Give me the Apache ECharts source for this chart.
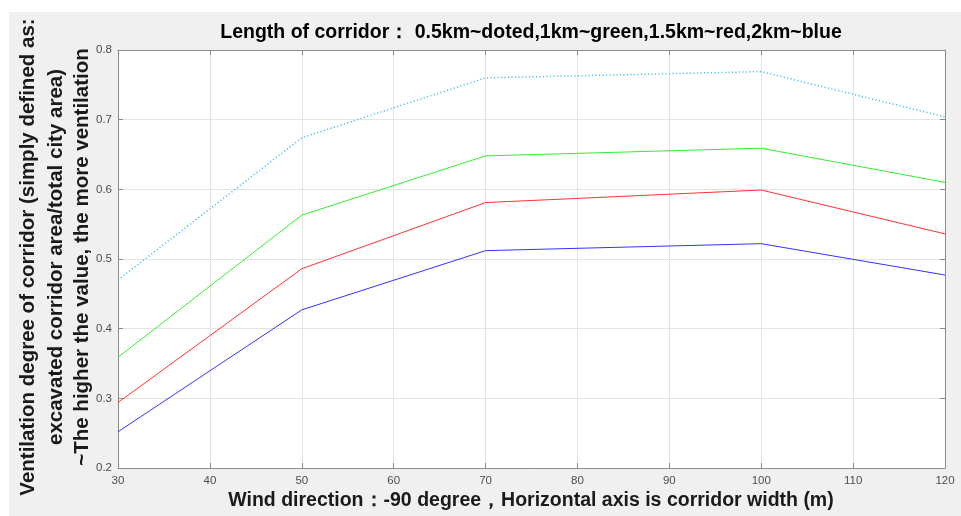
<!DOCTYPE html>
<html>
<head>
<meta charset="utf-8">
<script src="https://cdn.jsdelivr.net/npm/echarts@6/dist/echarts.min.js"></script>
<style>html,body{margin:0;padding:0;background:#fff;}#c{width:961px;height:516px;}</style>
</head>
<body>
<div id="c"></div>
<script>
var widths = [30, 50, 70, 100, 120];
var len05 = [0.470, 0.674, 0.760, 0.769, 0.704];
var len1 = [0.359, 0.563, 0.648, 0.659, 0.610];
var len15 = [0.294, 0.486, 0.581, 0.599, 0.536];
var len2 = [0.252, 0.427, 0.512, 0.522, 0.477];
var xTicks = [30, 40, 50, 60, 70, 80, 90, 100, 110, 120];
var yTicks = [0.2, 0.3, 0.4, 0.5, 0.6, 0.7, 0.8];
var titleText = 'Length of corridor\uFF1A 0.5km~doted,1km~green,1.5km~red,2km~blue';
var xTitle = 'Wind direction\uFF1A-90 degree\uFF0CHorizontal axis is corridor width (m)';
var yTitleLines = ['Ventilation degree of corridor (simply defined as:', 'excavated corridor area/total city area)', '~The higher the value, the more ventilation'];

function pairs(v) { return widths.map(function (w, i) { return [w, v[i]]; }); }

var chart = echarts.init(document.getElementById('c'));
var font = 'Liberation Sans, Arial, Helvetica, sans-serif';
var axisCol = '#8a8a8a';
var common = {
  type: 'value',
  axisLine: { show: true, lineStyle: { color: axisCol, width: 1 } },
  axisTick: { show: true, inside: true, length: 5, lineStyle: { color: axisCol } },
  splitLine: { show: true, lineStyle: { color: '#e4e4e4', width: 1 } }
};
var grid = { left: 118, right: 16, top: 50, bottom: 48, show: true, backgroundColor: '#ffffff', borderWidth: 0 };
chart.setOption({
  animation: false,
  backgroundColor: '#ffffff',
  graphic: [
    { type: 'rect', z: -10, silent: true, shape: { x: 9, y: 12, width: 952, height: 504 }, style: { fill: '#f0f0f0' } }
  ].concat(yTitleLines.map(function (t, i) {
    return { type: 'text', z: 10, x: [28, 56, 82][i], y: 257, rotation: Math.PI / 2,
      style: { text: t, font: 'bold 20.5px ' + font, fill: '#1a1a1a', textAlign: 'center', textVerticalAlign: 'middle' } };
  })).concat([
    { type: 'text', z: 10, x: 531, y: 33, style: { text: titleText, font: 'bold 19.5px ' + font, fill: '#000000', textAlign: 'center', textVerticalAlign: 'middle' } },
    { type: 'text', z: 10, x: 531, y: 501, style: { text: xTitle, font: 'bold 19.5px ' + font, fill: '#1a1a1a', textAlign: 'center', textVerticalAlign: 'middle' } }
  ]),
  grid: grid,
  xAxis: [
    Object.assign({}, common, { min: 30, max: 120, interval: 10, position: 'bottom',
      axisLabel: { color: '#4d4d4d', fontSize: 11.5, fontFamily: font, margin: 7 } }),
    Object.assign({}, common, { min: 30, max: 120, interval: 10, position: 'top',
      axisLabel: { show: false }, splitLine: { show: false } })
  ],
  yAxis: [
    Object.assign({}, common, { min: 0.2, max: 0.8, interval: 0.1, position: 'left',
      axisLabel: { color: '#4d4d4d', fontSize: 11.5, fontFamily: font, margin: 6, formatter: function (v) { return v.toFixed(1); } } }),
    Object.assign({}, common, { min: 0.2, max: 0.8, interval: 0.1, position: 'right',
      axisLabel: { show: false }, splitLine: { show: false } })
  ],
  series: [
    { type: 'line', data: pairs(len05), symbol: 'none', lineStyle: { color: '#4DBEEE', width: 1.5, type: [1.2, 2.3] } },
    { type: 'line', data: pairs(len1), symbol: 'none', lineStyle: { color: '#33ee33', width: 1 } },
    { type: 'line', data: pairs(len15), symbol: 'none', lineStyle: { color: '#ff3333', width: 1 } },
    { type: 'line', data: pairs(len2), symbol: 'none', lineStyle: { color: '#3333ff', width: 1 } }
  ]
});
</script>
</body>
</html>
